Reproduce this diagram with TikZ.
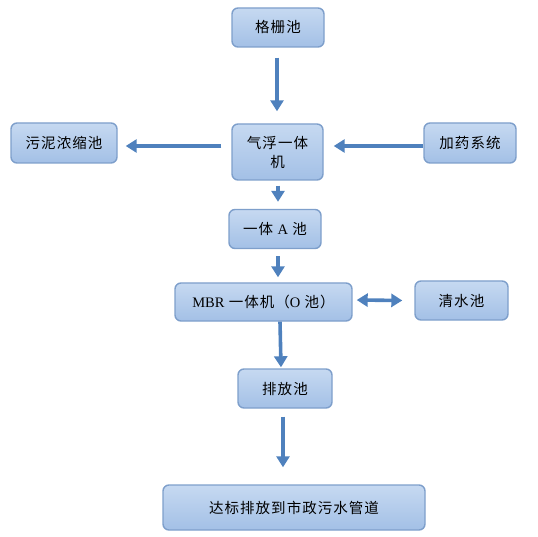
\documentclass[tikz,border=0pt]{standalone}
\usepackage{fontspec}
\setmainfont{Liberation Serif}
\newfontfamily\cjk[LetterSpace=7]{Noto Sans CJK SC}
\usetikzlibrary{arrows.meta,calc}
\definecolor{arrowblue}{RGB}{79,129,189}
\definecolor{boxborder}{RGB}{126,159,203}
\definecolor{boxtop}{RGB}{198,217,241}
\definecolor{boxbot}{RGB}{163,192,230}
\newcommand{\lat}[1]{{\rmfamily #1}}
\tikzset{
  procbox/.style={draw=boxborder, line width=1.4pt, rounded corners=6pt,
    top color=boxtop, bottom color=boxbot, inner sep=0pt, align=center,
    font=\cjk\fontsize{14.5}{19}\selectfont, text=black},
  arr/.style={draw=arrowblue, line width=3.6pt, -{Triangle[width=13pt,length=11pt]}},
  darr/.style={draw=arrowblue, line width=3.6pt, {Triangle[width=13pt,length=11pt]}-{Triangle[width=13pt,length=11pt]}}
}
\begin{document}
\begin{tikzpicture}[x=1pt,y=-1pt]
\useasboundingbox (0,0) rectangle (538,537);
\node[procbox, minimum width=92pt, minimum height=39pt] (gs) at (278,27.5) {格栅池};
\node[procbox, minimum width=91pt, minimum height=56pt] (qf) at (277.5,152) {气浮一体\\机};
\node[procbox, minimum width=106pt, minimum height=40pt] (wn) at (64,143) {污泥浓缩池};
\node[procbox, minimum width=92pt, minimum height=40pt] (jy) at (470,143) {加药系统};
\node[procbox, minimum width=92pt, minimum height=39pt] (ac) at (275,229) {一体 \lat{A} 池};
\node[procbox, minimum width=177pt, minimum height=38pt] (mbr) at (263.5,302) {\lat{MBR} 一体机（\lat{O} 池）};
\node[procbox, minimum width=93pt, minimum height=39pt] (qs) at (461.5,300.5) {清水池};
\node[procbox, minimum width=94pt, minimum height=39pt] (pf) at (285,388.5) {排放池};
\node[procbox, minimum width=262pt, minimum height=45pt] (db) at (294,507.5) {达标排放到市政污水管道};

\draw[arr] ([xshift=-1pt,yshift=-10pt]gs.south) -- ([xshift=-0.5pt,yshift=12pt]qf.north);
\draw[arr] ([xshift=0.5pt,yshift=-5pt]qf.south) -- ([xshift=3pt,yshift=7pt]ac.north);
\draw[arr] ([xshift=3pt,yshift=-7pt]ac.south) -- ([xshift=14.5pt,yshift=5pt]mbr.north);
\draw[arr] ([xshift=16.5pt]mbr.south) -- ([xshift=-4pt,yshift=1pt]pf.north);
\draw[arr] ([xshift=-2pt,yshift=-8pt]pf.south) -- ([xshift=-11pt,yshift=17pt]db.north);
\draw[arr] ([yshift=-3pt]jy.west) -- ([xshift=10pt,yshift=6pt]qf.east);
\draw[arr] ([xshift=-10pt,yshift=6pt]qf.west) -- ([xshift=8pt,yshift=-3pt]wn.east);
\draw[darr] ([xshift=4pt,yshift=2pt]mbr.east) -- ([xshift=-12pt]qs.west);
\end{tikzpicture}
\end{document}
